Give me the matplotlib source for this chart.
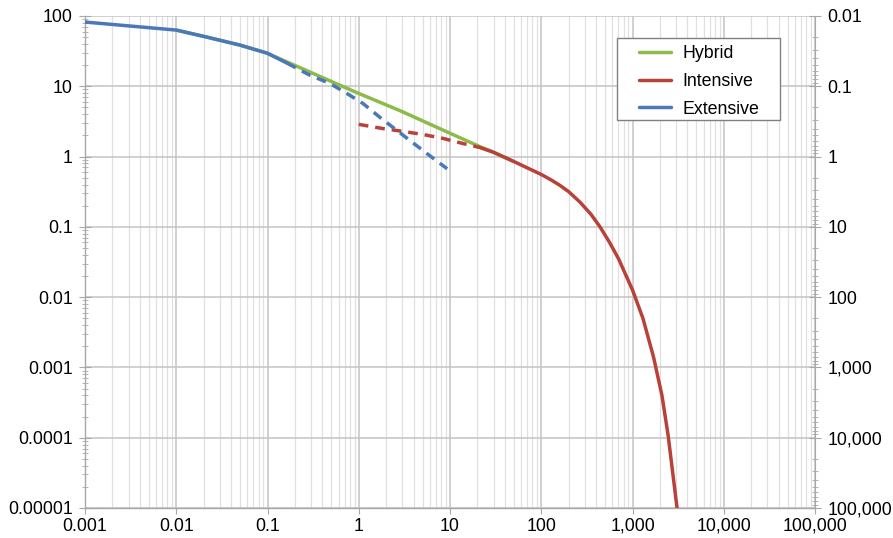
import numpy as np
import matplotlib
matplotlib.use("Agg")
import matplotlib.pyplot as plt
from matplotlib.patches import Rectangle
from matplotlib.ticker import LogLocator, FixedLocator, FixedFormatter, NullFormatter

plt.rcParams['font.family'] = ['Liberation Sans', 'DejaVu Sans']

# Curvas leidas sobre ejes log-log
x_ext = [0.001, 0.0031, 0.01, 0.0217, 0.05, 0.099, 0.164]
y_ext = [82, 72, 63, 50, 38.5, 29.6, 21.3]
x_ext_dash = [0.164, 0.29, 0.48, 0.74, 1.11, 1.71, 2.37, 3.64, 5.6, 9.3]
y_ext_dash = [21.3, 14.4, 11, 7.9, 5.7, 3.6, 2.6, 1.69, 1.1, 0.67]

x_hyb = [0.01, 0.0217, 0.05, 0.099, 0.148, 0.348, 1.0, 2.83, 7.2, 19.8, 30, 50]
y_hyb = [63, 50, 38.5, 29.6, 23.5, 14.4, 7.9, 4.5, 2.6, 1.44, 1.15, 0.85]

x_int_dash = [1.0, 1.84, 3.05, 5.06, 8.4, 13.9, 21]
y_int_dash = [2.87, 2.5, 2.28, 2.06, 1.81, 1.53, 1.35]
x_int = [21, 30, 50, 100, 130, 160, 200, 266, 350, 440, 560, 700, 1000, 1300, 1700,
         2100, 2450, 2780, 3075]
y_int = [1.35, 1.15, 0.85, 0.556, 0.46, 0.389, 0.316, 0.224, 0.151, 0.1, 0.06, 0.0355,
         0.0126, 0.005, 0.0014, 0.0004, 0.00011, 0.000029, 0.00001]

x_ticks = [0.001, 0.01, 0.1, 1, 10, 100, 1000, 10000, 100000]
x_labels = ['0.001', '0.01', '0.1', '1', '10', '100', '1,000', '10,000', '100,000']
y_ticks = [0.00001, 0.0001, 0.001, 0.01, 0.1, 1, 10, 100]
y_labels = ['0.00001', '0.0001', '0.001', '0.01', '0.1', '1', '10', '100']
y2_ticks = [0.01, 0.1, 1, 10, 100, 1000, 10000, 100000]
y2_labels = ['0.01', '0.1', '1', '10', '100', '1,000', '10,000', '100,000']

verde = '#8cbb4b'
rojo = '#b8413a'
azul = '#4a78b8'
gris = '#a8a8a8'
fs = 12.8

fig = plt.figure(figsize=(8.93, 5.38), dpi=100)
ax = fig.add_axes([0.0952, 0.0558, 0.8175, 0.9145])
ax.set_xscale('log')
ax.set_yscale('log')
ax.set_xlim(0.001, 100000)
ax.set_ylim(0.00001, 100)

lw = 2.5
kw = dict(lw=lw, solid_joinstyle='round', solid_capstyle='round')
l1, = ax.plot(x_hyb, y_hyb, color=verde, label='Hybrid', zorder=3, **kw)
l2, = ax.plot(x_int, y_int, color=rojo, label='Intensive', zorder=4, **kw)
ax.plot(x_int_dash, y_int_dash, color=rojo, lw=lw, dashes=(2.8, 2), zorder=4)
l3, = ax.plot(x_ext, y_ext, color=azul, label='Extensive', zorder=5, **kw)
ax.plot(x_ext_dash, y_ext_dash, color=azul, lw=lw, dashes=(2.8, 2), zorder=5)

# rejilla: mayor en ambos ejes, menor solo vertical
ax.xaxis.set_major_locator(FixedLocator(x_ticks))
ax.xaxis.set_major_formatter(FixedFormatter(x_labels))
ax.xaxis.set_minor_locator(LogLocator(base=10, subs=np.arange(2, 10)))
ax.xaxis.set_minor_formatter(NullFormatter())
ax.yaxis.set_major_locator(FixedLocator(y_ticks))
ax.yaxis.set_major_formatter(FixedFormatter(y_labels))
ax.yaxis.set_minor_locator(LogLocator(base=10, subs=np.arange(2, 10)))
ax.yaxis.set_minor_formatter(NullFormatter())
ax.grid(True, which='major', color='#c4c4c4', lw=1.1, zorder=0)
ax.grid(True, which='minor', axis='x', color='#e0e0e0', lw=0.9, zorder=0)
ax.set_axisbelow(True)

for s in ['top', 'right']:
    ax.spines[s].set_visible(False)
for s in ['left', 'bottom']:
    ax.spines[s].set_color(gris)
    ax.spines[s].set_linewidth(1.0)

ax.tick_params(axis='x', which='major', length=4, color=gris, labelsize=fs, pad=3)
ax.tick_params(axis='x', which='minor', length=0)
ax.tick_params(axis='y', which='major', direction='inout', length=8, color=gris, labelsize=fs, pad=5)
ax.tick_params(axis='y', which='minor', direction='inout', length=5, color=gris)

# eje derecho: reciproco del izquierdo
ax2 = ax.twinx()
ax2.set_yscale('log')
ax2.set_ylim(100000, 0.01)
ax2.yaxis.set_major_locator(FixedLocator(y2_ticks))
ax2.yaxis.set_major_formatter(FixedFormatter(y2_labels))
ax2.yaxis.set_minor_locator(LogLocator(base=10, subs=np.arange(2, 10)))
ax2.yaxis.set_minor_formatter(NullFormatter())
for s in ['top', 'left', 'bottom']:
    ax2.spines[s].set_visible(False)
ax2.spines['right'].set_color(gris)
ax2.tick_params(axis='y', which='major', direction='inout', length=8, color=gris, labelsize=fs, pad=5)
ax2.tick_params(axis='y', which='minor', direction='inout', length=5, color=gris)

# leyenda sin marco + recuadro propio
caja = Rectangle((0.691, 0.777), 0.1825, 0.1524, transform=fig.transFigure,
                 facecolor='white', edgecolor='#808080', lw=1.0, zorder=10)
fig.patches.append(caja)
leg = fig.legend(handles=[l1, l2, l3], loc='upper left', bbox_to_anchor=(0.7156, 0.916),
                 fontsize=fs, frameon=False, handlelength=1.8, handletextpad=0.62,
                 borderpad=0, labelspacing=0.6, borderaxespad=0)
leg.set_zorder(11)

fig.savefig('out.png', dpi=100)
